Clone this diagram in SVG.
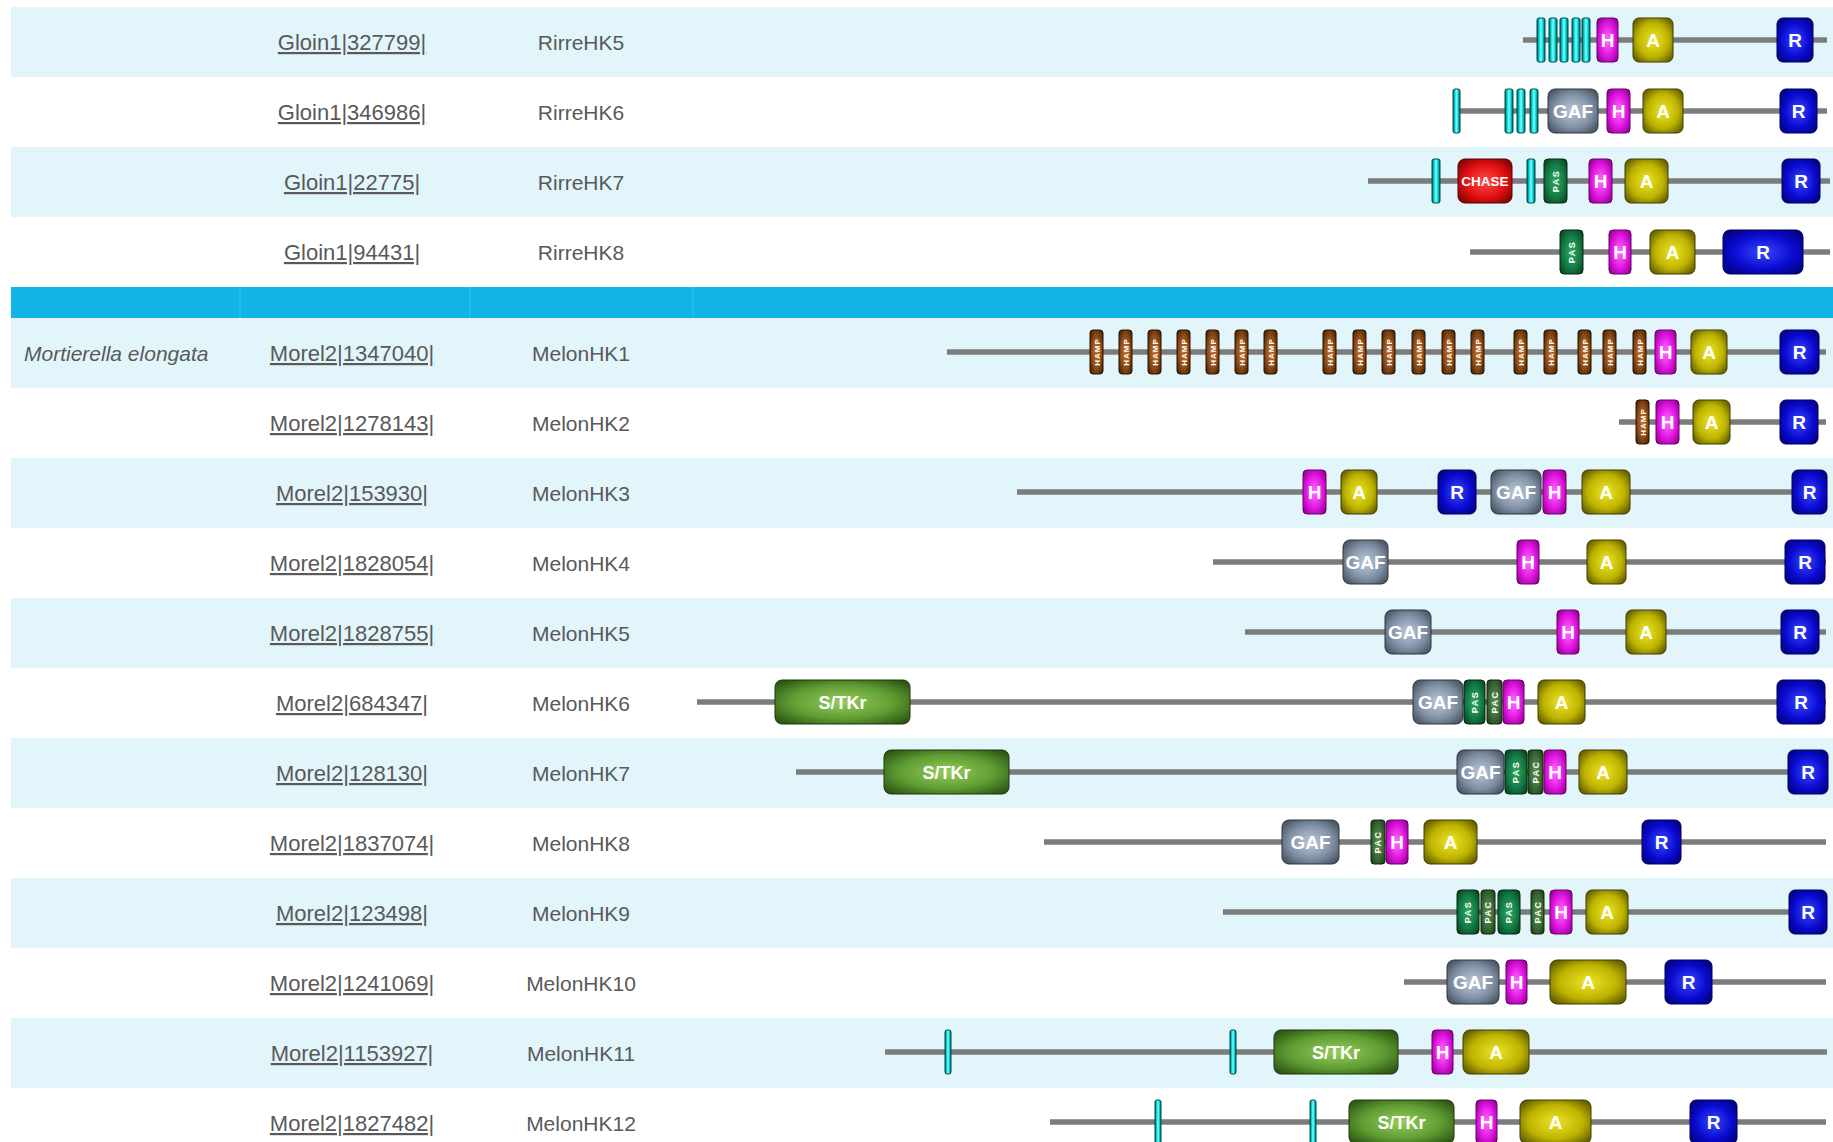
<svg xmlns="http://www.w3.org/2000/svg" width="1833" height="1142" viewBox="0 0 1833 1142">
<defs>
<radialGradient id="gH" r="0.7"><stop offset="0" stop-color="#ff70ff"/><stop offset="0.55" stop-color="#e014e0"/><stop offset="1" stop-color="#7a007a"/></radialGradient>
<radialGradient id="gA" r="0.7"><stop offset="0" stop-color="#ece428"/><stop offset="0.55" stop-color="#beb400"/><stop offset="1" stop-color="#4a4400"/></radialGradient>
<radialGradient id="gR" r="0.7"><stop offset="0" stop-color="#3848ff"/><stop offset="0.55" stop-color="#0a0ad0"/><stop offset="1" stop-color="#00006a"/></radialGradient>
<radialGradient id="gG" r="0.7"><stop offset="0" stop-color="#bcc8d8"/><stop offset="0.55" stop-color="#8090a4"/><stop offset="1" stop-color="#38424e"/></radialGradient>
<radialGradient id="gP" r="0.7"><stop offset="0" stop-color="#34a864"/><stop offset="0.55" stop-color="#137a45"/><stop offset="1" stop-color="#05381a"/></radialGradient>
<radialGradient id="gC" r="0.7"><stop offset="0" stop-color="#629458"/><stop offset="0.55" stop-color="#3a6a35"/><stop offset="1" stop-color="#163414"/></radialGradient>
<radialGradient id="gM" r="0.7"><stop offset="0" stop-color="#c47434"/><stop offset="0.55" stop-color="#8a4a14"/><stop offset="1" stop-color="#361800"/></radialGradient>
<radialGradient id="gX" r="0.7"><stop offset="0" stop-color="#ff4a4a"/><stop offset="0.55" stop-color="#e01010"/><stop offset="1" stop-color="#6a0000"/></radialGradient>
<radialGradient id="gS" r="0.7"><stop offset="0" stop-color="#98cc5c"/><stop offset="0.55" stop-color="#5e9c32"/><stop offset="1" stop-color="#22460c"/></radialGradient>
<linearGradient id="gY" x1="0" y1="0" x2="1" y2="0"><stop offset="0" stop-color="#005c5c"/><stop offset="0.3" stop-color="#10dede"/><stop offset="0.5" stop-color="#80ffff"/><stop offset="0.7" stop-color="#10dede"/><stop offset="1" stop-color="#005c5c"/></linearGradient>
</defs>
<style>
.band{fill:#e1f5fb}
.bar{fill:#10b4e6}
.sep{stroke:#3cc4ee;stroke-width:1}
.lab{font-family:"Liberation Sans",Arial,sans-serif;font-size:21px;fill:#595959;text-anchor:middle}
.id{font-size:22px;text-decoration:underline}
.sp{font-family:"Liberation Sans",Arial,sans-serif;font-size:21px;fill:#595959;font-style:italic}
.bb{stroke:#7c7c7c;stroke-width:5.5;fill:none}
.d{stroke-width:1}
.H{fill:url(#gH);stroke:#6a006a}
.A{fill:url(#gA);stroke:#403c00}
.R{fill:url(#gR);stroke:#00005a}
.G{fill:url(#gG);stroke:#2e3640}
.P{fill:url(#gP);stroke:#032a12}
.C{fill:url(#gC);stroke:#12280f}
.M{fill:url(#gM);stroke:#2a1200}
.X{fill:url(#gX);stroke:#5a0000}
.S{fill:url(#gS);stroke:#1c380a}
.Y{fill:url(#gY);stroke:#004c4c}
.t{font-family:"Liberation Sans",Arial,sans-serif;font-weight:bold;font-size:19px;fill:#ffffff;text-anchor:middle}
.tg{font-size:19px}
.tc{font-size:13.5px}
.ts{font-size:18px}
.v{font-family:"Liberation Sans",Arial,sans-serif;font-weight:bold;font-size:9px;fill:#ffffff;text-anchor:middle;letter-spacing:1.5px}
.vm{font-size:8px;letter-spacing:1px}
</style>

<g id="background">
<rect class="band" x="11" y="7" width="1822" height="70"/>
<rect class="band" x="11" y="147" width="1822" height="70"/>
<rect class="bar" x="11" y="287" width="1822" height="31"/>
<line class="sep" x1="240" y1="287" x2="240" y2="318"/>
<line class="sep" x1="470" y1="287" x2="470" y2="318"/>
<line class="sep" x1="693" y1="287" x2="693" y2="318"/>
<rect class="band" x="11" y="318" width="1822" height="70"/>
<rect class="band" x="11" y="458" width="1822" height="70"/>
<rect class="band" x="11" y="598" width="1822" height="70"/>
<rect class="band" x="11" y="738" width="1822" height="70"/>
<rect class="band" x="11" y="878" width="1822" height="70"/>
<rect class="band" x="11" y="1018" width="1822" height="70"/>
</g>

<g id="labels">
<text class="lab id" x="352" y="50">Gloin1|327799|</text><text class="lab" x="581" y="50">RirreHK5</text>
<text class="lab id" x="352" y="120">Gloin1|346986|</text><text class="lab" x="581" y="120">RirreHK6</text>
<text class="lab id" x="352" y="190">Gloin1|22775|</text><text class="lab" x="581" y="190">RirreHK7</text>
<text class="lab id" x="352" y="260">Gloin1|94431|</text><text class="lab" x="581" y="260">RirreHK8</text>
<text class="sp" x="24" y="361">Mortierella elongata</text>
<text class="lab id" x="352" y="361">Morel2|1347040|</text><text class="lab" x="581" y="361">MelonHK1</text>
<text class="lab id" x="352" y="431">Morel2|1278143|</text><text class="lab" x="581" y="431">MelonHK2</text>
<text class="lab id" x="352" y="501">Morel2|153930|</text><text class="lab" x="581" y="501">MelonHK3</text>
<text class="lab id" x="352" y="571">Morel2|1828054|</text><text class="lab" x="581" y="571">MelonHK4</text>
<text class="lab id" x="352" y="641">Morel2|1828755|</text><text class="lab" x="581" y="641">MelonHK5</text>
<text class="lab id" x="352" y="711">Morel2|684347|</text><text class="lab" x="581" y="711">MelonHK6</text>
<text class="lab id" x="352" y="781">Morel2|128130|</text><text class="lab" x="581" y="781">MelonHK7</text>
<text class="lab id" x="352" y="851">Morel2|1837074|</text><text class="lab" x="581" y="851">MelonHK8</text>
<text class="lab id" x="352" y="921">Morel2|123498|</text><text class="lab" x="581" y="921">MelonHK9</text>
<text class="lab id" x="352" y="991">Morel2|1241069|</text><text class="lab" x="581" y="991">MelonHK10</text>
<text class="lab id" x="352" y="1061">Morel2|1153927|</text><text class="lab" x="581" y="1061">MelonHK11</text>
<text class="lab id" x="352" y="1131">Morel2|1827482|</text><text class="lab" x="581" y="1131">MelonHK12</text>
</g>

<g id="connectors">
<line class="bb" x1="1523" y1="40" x2="1827" y2="40"/>
<line class="bb" x1="1453" y1="111" x2="1827" y2="111"/>
<line class="bb" x1="1368" y1="181" x2="1830" y2="181"/>
<line class="bb" x1="1470" y1="252" x2="1830" y2="252"/>
<line class="bb" x1="947" y1="352" x2="1826" y2="352"/>
<line class="bb" x1="1619" y1="422" x2="1826" y2="422"/>
<line class="bb" x1="1017" y1="492" x2="1826" y2="492"/>
<line class="bb" x1="1213" y1="562" x2="1826" y2="562"/>
<line class="bb" x1="1245" y1="632" x2="1826" y2="632"/>
<line class="bb" x1="697" y1="702" x2="1826" y2="702"/>
<line class="bb" x1="796" y1="772" x2="1826" y2="772"/>
<line class="bb" x1="1044" y1="842" x2="1826" y2="842"/>
<line class="bb" x1="1223" y1="912" x2="1826" y2="912"/>
<line class="bb" x1="1404" y1="982" x2="1826" y2="982"/>
<line class="bb" x1="885" y1="1052" x2="1827" y2="1052"/>
<line class="bb" x1="1050" y1="1122" x2="1826" y2="1122"/>
</g>

<g id="RirreHK5">
<rect class="d Y" x="1537" y="18" width="8" height="44" rx="2"/>
<rect class="d Y" x="1549" y="18" width="8" height="44" rx="2"/>
<rect class="d Y" x="1560" y="18" width="8" height="44" rx="2"/>
<rect class="d Y" x="1572" y="18" width="8" height="44" rx="2"/>
<rect class="d Y" x="1582" y="18" width="8" height="44" rx="2"/>
<g id="r5-H"><rect class="d H" x="1597" y="18" width="21" height="44" rx="4"/><text class="t" x="1607.5" y="47">H</text></g>
<g id="r5-A"><rect class="d A" x="1633" y="18" width="40" height="44" rx="6"/><text class="t" x="1653" y="47">A</text></g>
<g id="r5-R"><rect class="d R" x="1777" y="18" width="36" height="44" rx="6"/><text class="t" x="1795" y="47">R</text></g>
</g>

<g id="RirreHK6">
<rect class="d Y" x="1453" y="89" width="7" height="44" rx="2"/>
<rect class="d Y" x="1505" y="89" width="8" height="44" rx="2"/>
<rect class="d Y" x="1517" y="89" width="8" height="44" rx="2"/>
<rect class="d Y" x="1530" y="89" width="8" height="44" rx="2"/>
<g id="r6-GAF"><rect class="d G" x="1548" y="89" width="50" height="44" rx="7"/><text class="t tg" x="1573" y="118">GAF</text></g>
<g id="r6-H"><rect class="d H" x="1607" y="89" width="23" height="44" rx="4"/><text class="t" x="1618.5" y="118">H</text></g>
<g id="r6-A"><rect class="d A" x="1643" y="89" width="40" height="44" rx="6"/><text class="t" x="1663" y="118">A</text></g>
<g id="r6-R"><rect class="d R" x="1780" y="89" width="37" height="44" rx="6"/><text class="t" x="1798.5" y="118">R</text></g>
</g>

<g id="RirreHK7">
<rect class="d Y" x="1432" y="159" width="8" height="44" rx="2"/>
<g id="r7-CHASE"><rect class="d X" x="1458" y="159" width="54" height="44" rx="7"/><text class="t tc" x="1485" y="186">CHASE</text></g>
<rect class="d Y" x="1527" y="159" width="8" height="44" rx="2"/>
<g id="r7-PAS"><rect class="d P" x="1544" y="159" width="23" height="44" rx="4"/><text class="v" transform="translate(1558.8,181) rotate(-90)">PAS</text></g>
<g id="r7-H"><rect class="d H" x="1589" y="159" width="23" height="44" rx="4"/><text class="t" x="1600.5" y="188">H</text></g>
<g id="r7-A"><rect class="d A" x="1625" y="159" width="43" height="44" rx="6"/><text class="t" x="1646.5" y="188">A</text></g>
<g id="r7-R"><rect class="d R" x="1782" y="159" width="38" height="44" rx="6"/><text class="t" x="1801" y="188">R</text></g>
</g>

<g id="RirreHK8">
<g id="r8-PAS"><rect class="d P" x="1560" y="230" width="23" height="44" rx="4"/><text class="v" transform="translate(1574.8,252) rotate(-90)">PAS</text></g>
<g id="r8-H"><rect class="d H" x="1609" y="230" width="22" height="44" rx="4"/><text class="t" x="1620" y="259">H</text></g>
<g id="r8-A"><rect class="d A" x="1650" y="230" width="45" height="44" rx="6"/><text class="t" x="1672.5" y="259">A</text></g>
<g id="r8-R"><rect class="d R" x="1723" y="230" width="80" height="44" rx="7"/><text class="t" x="1763" y="259">R</text></g>
</g>

<g id="MelonHK1">
<g id="hk1-HAMP">
<rect class="d M" x="1090" y="330" width="13" height="44" rx="3"/><text class="v vm" transform="translate(1099.5,352) rotate(-90)">HAMP</text>
<rect class="d M" x="1119" y="330" width="13" height="44" rx="3"/><text class="v vm" transform="translate(1128.5,352) rotate(-90)">HAMP</text>
<rect class="d M" x="1148" y="330" width="13" height="44" rx="3"/><text class="v vm" transform="translate(1157.5,352) rotate(-90)">HAMP</text>
<rect class="d M" x="1177" y="330" width="13" height="44" rx="3"/><text class="v vm" transform="translate(1186.5,352) rotate(-90)">HAMP</text>
<rect class="d M" x="1206" y="330" width="13" height="44" rx="3"/><text class="v vm" transform="translate(1215.5,352) rotate(-90)">HAMP</text>
<rect class="d M" x="1235" y="330" width="13" height="44" rx="3"/><text class="v vm" transform="translate(1244.5,352) rotate(-90)">HAMP</text>
<rect class="d M" x="1264" y="330" width="13" height="44" rx="3"/><text class="v vm" transform="translate(1273.5,352) rotate(-90)">HAMP</text>
<rect class="d M" x="1323" y="330" width="13" height="44" rx="3"/><text class="v vm" transform="translate(1332.5,352) rotate(-90)">HAMP</text>
<rect class="d M" x="1353" y="330" width="13" height="44" rx="3"/><text class="v vm" transform="translate(1362.5,352) rotate(-90)">HAMP</text>
<rect class="d M" x="1382" y="330" width="13" height="44" rx="3"/><text class="v vm" transform="translate(1391.5,352) rotate(-90)">HAMP</text>
<rect class="d M" x="1412" y="330" width="13" height="44" rx="3"/><text class="v vm" transform="translate(1421.5,352) rotate(-90)">HAMP</text>
<rect class="d M" x="1442" y="330" width="13" height="44" rx="3"/><text class="v vm" transform="translate(1451.5,352) rotate(-90)">HAMP</text>
<rect class="d M" x="1471" y="330" width="13" height="44" rx="3"/><text class="v vm" transform="translate(1480.5,352) rotate(-90)">HAMP</text>
<rect class="d M" x="1514" y="330" width="13" height="44" rx="3"/><text class="v vm" transform="translate(1523.5,352) rotate(-90)">HAMP</text>
<rect class="d M" x="1544" y="330" width="13" height="44" rx="3"/><text class="v vm" transform="translate(1553.5,352) rotate(-90)">HAMP</text>
<rect class="d M" x="1578" y="330" width="13" height="44" rx="3"/><text class="v vm" transform="translate(1587.5,352) rotate(-90)">HAMP</text>
<rect class="d M" x="1603" y="330" width="13" height="44" rx="3"/><text class="v vm" transform="translate(1612.5,352) rotate(-90)">HAMP</text>
<rect class="d M" x="1633" y="330" width="13" height="44" rx="3"/><text class="v vm" transform="translate(1642.5,352) rotate(-90)">HAMP</text>
</g>
<g id="hk1-H"><rect class="d H" x="1655" y="330" width="21" height="44" rx="4"/><text class="t" x="1665.5" y="359">H</text></g>
<g id="hk1-A"><rect class="d A" x="1691" y="330" width="36" height="44" rx="6"/><text class="t" x="1709" y="359">A</text></g>
<g id="hk1-R"><rect class="d R" x="1780" y="330" width="39" height="44" rx="6"/><text class="t" x="1799.5" y="359">R</text></g>
</g>

<g id="MelonHK2">
<g id="hk2-HAMP"><rect class="d M" x="1636" y="400" width="13" height="44" rx="3"/><text class="v vm" transform="translate(1645.5,422) rotate(-90)">HAMP</text></g>
<g id="hk2-H"><rect class="d H" x="1656" y="400" width="23" height="44" rx="4"/><text class="t" x="1667.5" y="429">H</text></g>
<g id="hk2-A"><rect class="d A" x="1693" y="400" width="37" height="44" rx="6"/><text class="t" x="1711.5" y="429">A</text></g>
<g id="hk2-R"><rect class="d R" x="1780" y="400" width="38" height="44" rx="6"/><text class="t" x="1799" y="429">R</text></g>
</g>

<g id="MelonHK3">
<g id="hk3-H1"><rect class="d H" x="1303" y="470" width="23" height="44" rx="4"/><text class="t" x="1314.5" y="499">H</text></g>
<g id="hk3-A1"><rect class="d A" x="1341" y="470" width="36" height="44" rx="6"/><text class="t" x="1359" y="499">A</text></g>
<g id="hk3-R1"><rect class="d R" x="1438" y="470" width="38" height="44" rx="6"/><text class="t" x="1457" y="499">R</text></g>
<g id="hk3-GAF"><rect class="d G" x="1491" y="470" width="50" height="44" rx="7"/><text class="t tg" x="1516" y="499">GAF</text></g>
<g id="hk3-H2"><rect class="d H" x="1543" y="470" width="23" height="44" rx="4"/><text class="t" x="1554.5" y="499">H</text></g>
<g id="hk3-A2"><rect class="d A" x="1582" y="470" width="48" height="44" rx="6"/><text class="t" x="1606" y="499">A</text></g>
<g id="hk3-R2"><rect class="d R" x="1792" y="470" width="35" height="44" rx="6"/><text class="t" x="1809.5" y="499">R</text></g>
</g>

<g id="MelonHK4">
<g id="hk4-GAF"><rect class="d G" x="1343" y="540" width="45" height="44" rx="7"/><text class="t tg" x="1365.5" y="569">GAF</text></g>
<g id="hk4-H"><rect class="d H" x="1517" y="540" width="22" height="44" rx="4"/><text class="t" x="1528" y="569">H</text></g>
<g id="hk4-A"><rect class="d A" x="1587" y="540" width="39" height="44" rx="6"/><text class="t" x="1606.5" y="569">A</text></g>
<g id="hk4-R"><rect class="d R" x="1785" y="540" width="40" height="44" rx="6"/><text class="t" x="1805" y="569">R</text></g>
</g>

<g id="MelonHK5">
<g id="hk5-GAF"><rect class="d G" x="1385" y="610" width="46" height="44" rx="7"/><text class="t tg" x="1408" y="639">GAF</text></g>
<g id="hk5-H"><rect class="d H" x="1557" y="610" width="22" height="44" rx="4"/><text class="t" x="1568" y="639">H</text></g>
<g id="hk5-A"><rect class="d A" x="1626" y="610" width="40" height="44" rx="6"/><text class="t" x="1646" y="639">A</text></g>
<g id="hk5-R"><rect class="d R" x="1781" y="610" width="38" height="44" rx="6"/><text class="t" x="1800" y="639">R</text></g>
</g>

<g id="MelonHK6">
<g id="hk6-STK"><rect class="d S" x="775" y="680" width="135" height="44" rx="7"/><text class="t ts" x="842.5" y="709">S/TKr</text></g>
<g id="hk6-GAF"><rect class="d G" x="1413" y="680" width="50" height="44" rx="7"/><text class="t tg" x="1438" y="709">GAF</text></g>
<g id="hk6-PAS"><rect class="d P" x="1464" y="680" width="21" height="44" rx="4"/><text class="v" transform="translate(1477.8,702) rotate(-90)">PAS</text></g>
<g id="hk6-PAC"><rect class="d C" x="1487" y="680" width="15" height="44" rx="3"/><text class="v" transform="translate(1497.8,702) rotate(-90)">PAC</text></g>
<g id="hk6-H"><rect class="d H" x="1503" y="680" width="21" height="44" rx="4"/><text class="t" x="1513.5" y="709">H</text></g>
<g id="hk6-A"><rect class="d A" x="1538" y="680" width="47" height="44" rx="6"/><text class="t" x="1561.5" y="709">A</text></g>
<g id="hk6-R"><rect class="d R" x="1777" y="680" width="48" height="44" rx="6"/><text class="t" x="1801" y="709">R</text></g>
</g>

<g id="MelonHK7">
<g id="hk7-STK"><rect class="d S" x="884" y="750" width="125" height="44" rx="7"/><text class="t ts" x="946.5" y="779">S/TKr</text></g>
<g id="hk7-GAF"><rect class="d G" x="1457" y="750" width="47" height="44" rx="7"/><text class="t tg" x="1480.5" y="779">GAF</text></g>
<g id="hk7-PAS"><rect class="d P" x="1505" y="750" width="22" height="44" rx="4"/><text class="v" transform="translate(1519.3,772) rotate(-90)">PAS</text></g>
<g id="hk7-PAC"><rect class="d C" x="1528" y="750" width="15" height="44" rx="3"/><text class="v" transform="translate(1538.8,772) rotate(-90)">PAC</text></g>
<g id="hk7-H"><rect class="d H" x="1544" y="750" width="22" height="44" rx="4"/><text class="t" x="1555" y="779">H</text></g>
<g id="hk7-A"><rect class="d A" x="1579" y="750" width="48" height="44" rx="6"/><text class="t" x="1603" y="779">A</text></g>
<g id="hk7-R"><rect class="d R" x="1788" y="750" width="40" height="44" rx="6"/><text class="t" x="1808" y="779">R</text></g>
</g>

<g id="MelonHK8">
<g id="hk8-GAF"><rect class="d G" x="1282" y="820" width="57" height="44" rx="7"/><text class="t tg" x="1310.5" y="849">GAF</text></g>
<g id="hk8-PAC"><rect class="d C" x="1371" y="820" width="14" height="44" rx="3"/><text class="v" transform="translate(1381.3,842) rotate(-90)">PAC</text></g>
<g id="hk8-H"><rect class="d H" x="1386" y="820" width="22" height="44" rx="4"/><text class="t" x="1397" y="849">H</text></g>
<g id="hk8-A"><rect class="d A" x="1424" y="820" width="53" height="44" rx="6"/><text class="t" x="1450.5" y="849">A</text></g>
<g id="hk8-R"><rect class="d R" x="1642" y="820" width="39" height="44" rx="6"/><text class="t" x="1661.5" y="849">R</text></g>
</g>

<g id="MelonHK9">
<g id="hk9-PAS1"><rect class="d P" x="1457" y="890" width="22" height="44" rx="4"/><text class="v" transform="translate(1471.3,912) rotate(-90)">PAS</text></g>
<g id="hk9-PAC1"><rect class="d C" x="1481" y="890" width="14" height="44" rx="3"/><text class="v" transform="translate(1491.3,912) rotate(-90)">PAC</text></g>
<g id="hk9-PAS2"><rect class="d P" x="1498" y="890" width="22" height="44" rx="4"/><text class="v" transform="translate(1512.3,912) rotate(-90)">PAS</text></g>
<g id="hk9-PAC2"><rect class="d C" x="1531" y="890" width="13" height="44" rx="3"/><text class="v" transform="translate(1540.8,912) rotate(-90)">PAC</text></g>
<g id="hk9-H"><rect class="d H" x="1550" y="890" width="22" height="44" rx="4"/><text class="t" x="1561" y="919">H</text></g>
<g id="hk9-A"><rect class="d A" x="1586" y="890" width="42" height="44" rx="6"/><text class="t" x="1607" y="919">A</text></g>
<g id="hk9-R"><rect class="d R" x="1789" y="890" width="38" height="44" rx="6"/><text class="t" x="1808" y="919">R</text></g>
</g>

<g id="MelonHK10">
<g id="hk10-GAF"><rect class="d G" x="1447" y="960" width="52" height="44" rx="7"/><text class="t tg" x="1473" y="989">GAF</text></g>
<g id="hk10-H"><rect class="d H" x="1506" y="960" width="21" height="44" rx="4"/><text class="t" x="1516.5" y="989">H</text></g>
<g id="hk10-A"><rect class="d A" x="1550" y="960" width="76" height="44" rx="7"/><text class="t" x="1588" y="989">A</text></g>
<g id="hk10-R"><rect class="d R" x="1665" y="960" width="47" height="44" rx="6"/><text class="t" x="1688.5" y="989">R</text></g>
</g>

<g id="MelonHK11">
<rect class="d Y" x="945" y="1030" width="6" height="44" rx="2"/>
<rect class="d Y" x="1230" y="1030" width="6" height="44" rx="2"/>
<g id="hk11-STK"><rect class="d S" x="1274" y="1030" width="124" height="44" rx="7"/><text class="t ts" x="1336" y="1059">S/TKr</text></g>
<g id="hk11-H"><rect class="d H" x="1432" y="1030" width="21" height="44" rx="4"/><text class="t" x="1442.5" y="1059">H</text></g>
<g id="hk11-A"><rect class="d A" x="1463" y="1030" width="66" height="44" rx="7"/><text class="t" x="1496" y="1059">A</text></g>
</g>

<g id="MelonHK12">
<rect class="d Y" x="1155" y="1100" width="6" height="44" rx="2"/>
<rect class="d Y" x="1310" y="1100" width="6" height="44" rx="2"/>
<g id="hk12-STK"><rect class="d S" x="1349" y="1100" width="105" height="44" rx="7"/><text class="t ts" x="1401.5" y="1129">S/TKr</text></g>
<g id="hk12-H"><rect class="d H" x="1476" y="1100" width="21" height="44" rx="4"/><text class="t" x="1486.5" y="1129">H</text></g>
<g id="hk12-A"><rect class="d A" x="1520" y="1100" width="71" height="44" rx="7"/><text class="t" x="1555.5" y="1129">A</text></g>
<g id="hk12-R"><rect class="d R" x="1690" y="1100" width="47" height="44" rx="6"/><text class="t" x="1713.5" y="1129">R</text></g>
</g>
</svg>
